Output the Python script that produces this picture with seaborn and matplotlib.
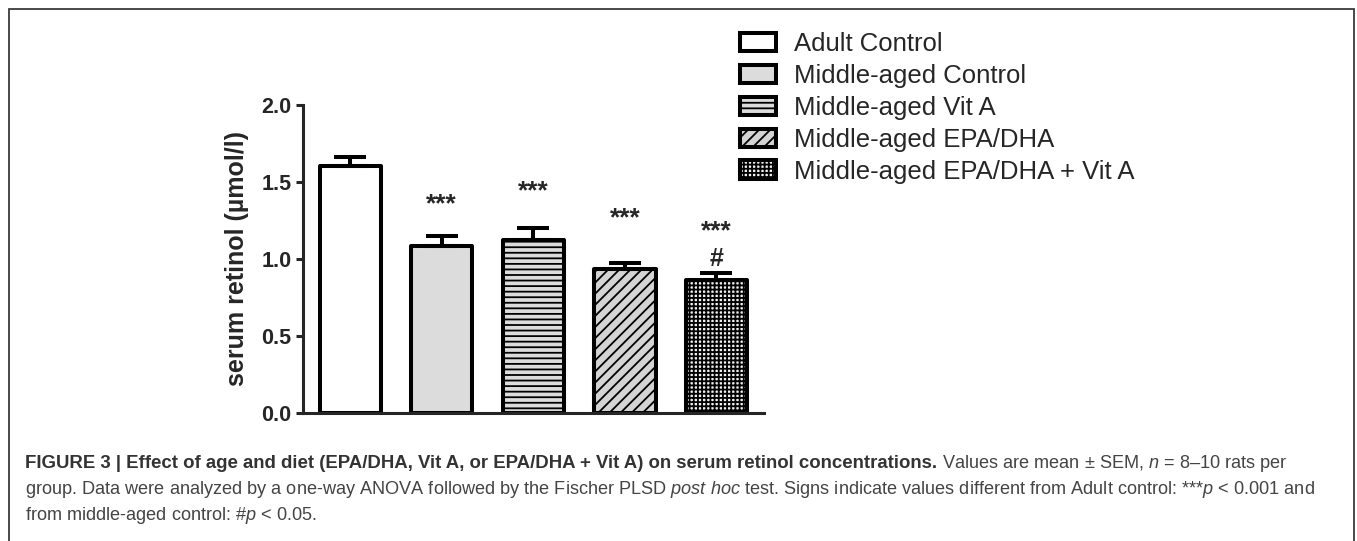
import matplotlib
matplotlib.use("Agg")
import seaborn as sns
import matplotlib.pyplot as plt
import pandas as pd
import numpy as np
from matplotlib.patches import Patch, Rectangle
from matplotlib.transforms import IdentityTransform

# Values (serum retinol, mean and SEM)
groups = ["Adult Control", "Middle-aged Control", "Middle-aged Vit A",
          "Middle-aged EPA/DHA", "Middle-aged EPA/DHA + Vit A"]
means = [1.60, 1.08, 1.12, 0.93, 0.86]
sems = [0.06, 0.07, 0.08, 0.04, 0.05]

# Significance marks and the heights they sit at
star_labels = ["", "***", "***", "***", "***"]
star_heights = [0, 1.35, 1.44, 1.26, 1.18]
hash_labels = ["", "", "", "", "#"]
hash_heights = [0, 0, 0, 0, 1.00]

yticks = [0.0, 0.5, 1.0, 1.5, 2.0]

# Bar styling
fills = ["#ffffff", "#dcdcdc", "#dcdcdc", "#d4d4d4", "#f0f0f0"]
hatches = ["", "", "---", "///", "++++"]

sns.set_style("ticks")
plt.rcParams["font.family"] = ["Liberation Sans", "DejaVu Sans"]
plt.rcParams["mathtext.fontset"] = "custom"
plt.rcParams["mathtext.rm"] = "Liberation Sans"
plt.rcParams["mathtext.it"] = "Liberation Sans:italic"
plt.rcParams["mathtext.bf"] = "Liberation Sans:bold"
plt.rcParams["hatch.linewidth"] = 1.3

W, H = 1357, 541
fig = plt.figure(figsize=(W / 100, H / 100), dpi=100)
ax = fig.add_axes([302.7 / W, 1 - 412.7 / H, (764 - 302.7) / W, (412.7 - 104.7) / H])

df = pd.DataFrame({"group": groups, "mean": means})
sns.barplot(data=df, x="group", y="mean", hue="group", palette=fills,
            saturation=1, width=0.67, edgecolor="black", linewidth=2.9,
            legend=False, errorbar=None, ax=ax)
for patch, h in zip(ax.patches, hatches):
    patch.set_hatch(h)
    patch.set_joinstyle("round")

ax.errorbar(np.arange(len(means)), means, yerr=[np.zeros(len(sems)), sems],
            fmt="none", ecolor="black", elinewidth=2.9, capsize=11.5,
            capthick=2.9, zorder=1)

# significance marks
for i, (lab, yv) in enumerate(zip(star_labels, star_heights)):
    if lab:
        ax.text(i, yv, lab, ha="center", va="center", fontsize=19,
                fontweight="bold")
for i, (lab, yv) in enumerate(zip(hash_labels, hash_heights)):
    if lab:
        ax.text(i, yv, lab, ha="center", va="center", fontsize=18,
                fontweight="bold")

ax.set_xlim(-0.52, 4.52)
ax.set_ylim(0, 2.0)
ax.set_yticks(yticks)
ax.set_yticklabels([f"{v:.1f}" for v in yticks], fontweight="bold")
ax.set_xticks([])
ax.set_xlabel("")
ax.set_ylabel("serum retinol (µmol/l)", fontsize=18, fontweight="bold",
              labelpad=9)
sns.despine(ax=ax)
for s in ["left", "bottom"]:
    ax.spines[s].set_linewidth(2.2)
ax.tick_params(axis="y", direction="out", length=5, width=2.2,
               labelsize=15.5, pad=3)

# legend
handles = [Patch(facecolor=f, edgecolor="black", hatch=h, linewidth=2.9)
           for f, h in zip(fills, hatches)]
fig.legend(handles, groups, loc="upper left",
           bbox_to_anchor=(740 / W, 1 - 32 / H), frameon=False, fontsize=18.5,
           handlelength=1.4, handleheight=0.75, handletextpad=0.7,
           labelspacing=0.31, borderpad=0, borderaxespad=0)

# frame around the whole figure (open at the bottom)
fig.add_artist(Rectangle((8.5 / W, -0.05), (1354 - 8.5) / W, 1.05 - 8.5 / H,
                         transform=fig.transFigure, fill=False,
                         edgecolor="#3a3a3a", linewidth=1.3))

# caption
cap_size = 13.1
bold_size = 13.45
cap_col = "#444444"
renderer = fig.canvas.get_renderer()
x0 = 25
bold = fig.text(x0, H - 468, "FIGURE 3 | Effect of age and diet (EPA/DHA, Vit A, "
                "or EPA/DHA + Vit A) on serum retinol concentrations.",
                transform=IdentityTransform(), fontsize=bold_size,
                fontweight="bold", color="#333333", va="baseline")
bw = bold.get_window_extent(renderer=renderer).width
fig.text(x0 + bw + 5, H - 468,
         r"Values are mean ± SEM, $\it{n}$ = 8–10 rats per",
         transform=IdentityTransform(), fontsize=cap_size, color=cap_col,
         va="baseline")
fig.text(x0, H - 494,
         r"group. Data were analyzed by a one-way ANOVA followed by the Fischer "
         r"PLSD $\it{post\ hoc}$ test. Signs indicate values different from "
         r"Adult control: ***$\it{p}$ < 0.001 and",
         transform=IdentityTransform(), fontsize=cap_size, color=cap_col,
         va="baseline")
fig.text(x0, H - 520, r"from middle-aged control: #$\it{p}$ < 0.05.",
         transform=IdentityTransform(), fontsize=cap_size, color=cap_col,
         va="baseline")

fig.savefig("out.png", dpi=100)
